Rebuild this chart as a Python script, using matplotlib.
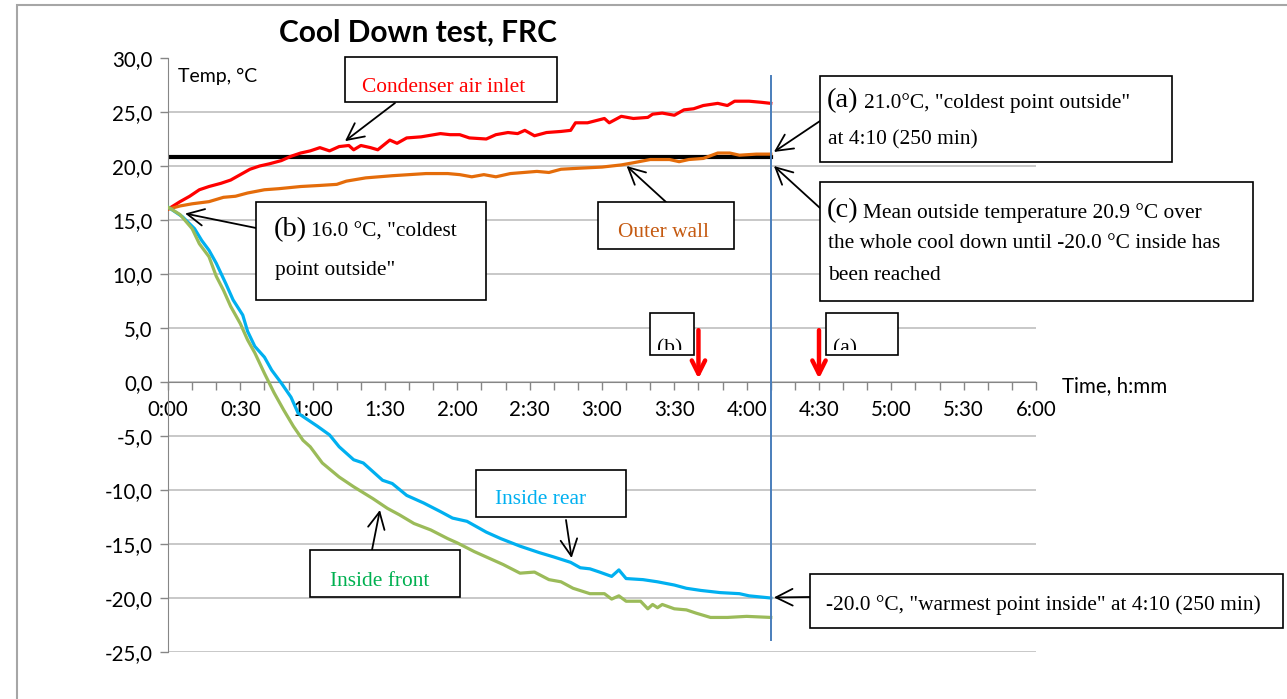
import matplotlib
matplotlib.use('Agg')
import matplotlib.pyplot as plt
from matplotlib.patches import Rectangle
from matplotlib.ticker import MultipleLocator, FuncFormatter
from matplotlib.transforms import Bbox

# 数据（分钟, °C）
t_red = [0, 5, 9, 13, 17, 22, 26, 30, 34, 38, 42, 47, 51, 55, 59, 63, 67, 71, 75, 77,
         80, 84, 87, 92, 95, 99, 105, 113, 117, 121, 125, 132, 136, 141, 145, 148, 152, 157, 163, 167,
         169, 174, 181, 183, 188, 193, 199, 201, 205, 210, 214, 218, 222, 228, 232, 235, 241, 246, 250]
condenser = [16.0, 16.7, 17.2, 17.8, 18.1, 18.4, 18.7, 19.2, 19.7, 20.0, 20.2, 20.5, 20.9, 21.2, 21.4, 21.7, 21.4, 21.8, 21.9, 21.5,
             21.9, 21.7, 21.5, 22.4, 22.1, 22.6, 22.7, 23.0, 22.9, 22.9, 22.6, 22.5, 22.9, 23.1, 23.0, 23.3, 22.8, 23.1, 23.2, 23.3,
             24.0, 24.0, 24.4, 24.0, 24.6, 24.4, 24.5, 24.8, 24.9, 24.7, 25.2, 25.3, 25.6, 25.8, 25.6, 26.0, 26.0, 25.9, 25.8]

t_orange = [0, 5, 10, 17, 23, 28, 33, 40, 46, 55, 63, 70, 74, 82, 93, 107, 116, 121, 126, 131,
            136, 142, 153, 158, 163, 171, 180, 188, 193, 200, 208, 212, 216, 222, 228, 233, 237, 244, 250]
outer_wall = [16.0, 16.3, 16.5, 16.7, 17.1, 17.2, 17.5, 17.8, 17.9, 18.1, 18.2, 18.3, 18.6, 18.9, 19.1, 19.3, 19.3, 19.2, 19.0, 19.2,
              19.0, 19.3, 19.5, 19.4, 19.7, 19.8, 19.9, 20.1, 20.3, 20.6, 20.6, 20.4, 20.6, 20.7, 21.2, 21.2, 21.0, 21.1, 21.1]

t_blue = [0, 6, 11, 14, 17, 20, 24, 27, 31, 33, 36, 40, 43, 47, 51, 54, 58, 62, 67, 71,
          77, 81, 89, 93, 99, 106, 113, 118, 124, 132, 138, 146, 154, 160, 167, 171, 175, 179, 184, 187,
          190, 197, 203, 210, 215, 221, 229, 237, 241, 250]
inside_rear = [16.2, 15.3, 14.2, 13.1, 12.2, 11.0, 9.1, 7.6, 6.2, 4.7, 3.3, 2.3, 1.1, -0.1, -1.4, -2.9, -3.5, -4.1, -4.9, -6.0,
               -7.2, -7.5, -9.1, -9.4, -10.5, -11.2, -12.0, -12.6, -12.9, -13.9, -14.5, -15.2, -15.8, -16.2, -16.7, -17.2, -17.3, -17.6, -18.0, -17.4,
               -18.2, -18.3, -18.5, -18.8, -19.1, -19.3, -19.5, -19.6, -19.8, -20.0]

t_green = [0, 5, 10, 13, 17, 20, 23, 26, 30, 33, 36, 40, 44, 48, 52, 56, 59, 64, 71, 77,
           85, 91, 96, 102, 109, 116, 120, 127, 132, 139, 146, 152, 158, 163, 168, 175, 181, 184, 187, 190,
           196, 199, 201, 203, 205, 210, 215, 219, 225, 232, 240, 250]
inside_front = [16.2, 15.5, 14.2, 12.8, 11.6, 9.8, 8.5, 7.0, 5.4, 3.9, 2.7, 0.8, -1.0, -2.6, -4.1, -5.4, -6.0, -7.5, -8.8, -9.7,
                -10.8, -11.7, -12.3, -13.1, -13.7, -14.5, -14.9, -15.7, -16.2, -16.9, -17.7, -17.6, -18.3, -18.5, -19.1, -19.6, -19.6, -20.1, -19.8, -20.3,
                -20.3, -21.0, -20.6, -20.9, -20.6, -21.0, -21.1, -21.4, -21.8, -21.8, -21.7, -21.8]

mean_outside = 20.8
t_end = 250
marker_b, marker_a = 220, 270

W, H = 1287, 699
fig = plt.figure(figsize=(W / 100, H / 100), dpi=100)

def fx(x):
    return x / W

def fy(y):
    return 1 - y / H

ax = fig.add_axes([fx(168), fy(652), fx(1036 - 168), (652 - 58) / H])
ax.set_xlim(0, 360)
ax.set_ylim(-25, 30)

# 网格和坐标轴
for v in range(-25, 30, 5):
    ax.axhline(v, color='#bfbfbf', lw=1.2, zorder=0)
for s in ['top', 'right']:
    ax.spines[s].set_visible(False)
ax.spines['left'].set_color('#868686')
ax.spines['bottom'].set_color('#868686')
ax.spines['bottom'].set_position(('data', 0))
ax.xaxis.set_major_locator(MultipleLocator(10))
ax.yaxis.set_major_locator(MultipleLocator(5))
ax.xaxis.set_major_formatter(FuncFormatter(
    lambda x, p: f"{int(x) // 60}:{int(x) % 60:02d}" if int(x) % 30 == 0 else ''))
ax.yaxis.set_major_formatter(FuncFormatter(lambda y, p: f"{y:.1f}".replace('.', ',')))
ax.tick_params(axis='both', colors='#868686', labelcolor='black', length=6, width=1,
               labelsize=14.8, labelfontfamily='Lato')
ax.tick_params(axis='x', pad=7)
ax.tick_params(axis='y', pad=5)

# 曲线
lw = 2.3
ax.plot(t_red, condenser, color='#ff0000', lw=lw, zorder=3)
ax.plot(t_orange, outer_wall, color='#e46c0a', lw=lw, zorder=3)
ax.plot(t_blue, inside_rear, color='#00b0f0', lw=lw, zorder=3)
ax.plot(t_green, inside_front, color='#9bbb59', lw=lw, zorder=3)
ax.plot([0, t_end], [mean_outside, mean_outside], color='black', lw=3, zorder=2)
ax.plot([t_end, t_end], [28.3, -23.9], color='#4a7ebb', lw=1.4, zorder=4)

# 红色箭头
for tm in [marker_b, marker_a]:
    ax.annotate('', xy=(tm, 0.3), xytext=(tm, 4.8),
                arrowprops=dict(arrowstyle='->', color='red', lw=3.2, mutation_scale=24,
                                shrinkA=0, shrinkB=0), zorder=5)

# 标题和轴标签
fig.text(fx(418), fy(33), 'Cool Down test, FRC', fontsize=21.5, fontweight='bold',
         family='Lato', ha='center', va='center')
fig.text(fx(178), fy(76), 'Temp, °C', fontsize=14, family='Lato', va='center')
fig.text(fx(1062), fy(386), 'Time, h:mm', fontsize=14.8, family='Lato', va='center')

# 外框
fig.patches.append(Rectangle((fx(17), -0.1), 1.2, fy(5) + 0.1, transform=fig.transFigure,
                             fill=False, ec='#a6a6a6', lw=1.5))

serif = 'Liberation Serif'
fs = 15.4
fs_big = 20.5

def box(x0, y0, x1, y1):
    fig.patches.append(Rectangle((fx(x0), fy(y1)), fx(x1 - x0), (y1 - y0) / H,
                                 transform=fig.transFigure, fc='white', ec='black', lw=1.2, zorder=6))

def arrow(xy, tail):
    ax.annotate('', xy=xy, xycoords='data', xytext=(tail[0], H - tail[1]),
                textcoords='figure pixels',
                arrowprops=dict(arrowstyle='->', color='black', lw=1.3, mutation_scale=30,
                                shrinkA=0, shrinkB=0), zorder=7)

def label(x, y, s, size=fs, color='black'):
    return fig.text(fx(x), fy(y), s, color=color, fontsize=size, family=serif,
                    va='center', zorder=8)

# 标注框
box(345, 57, 557, 102)
label(362, 88, 'Condenser air inlet', color='#ff0000')
arrow((73.4, 22.3), (395, 103))

box(820, 76, 1172, 162)
label(827, 101, '(a)', size=fs_big)
label(864, 103, '21.0°C, "coldest point outside"')
label(828, 140, 'at 4:10 (250 min)')
arrow((251.3, 21.3), (820, 121))

box(820, 182, 1253, 301)
label(827, 211, '(c)', size=fs_big)
label(863, 213, 'Mean outside temperature 20.9 °C over')
label(828, 244, 'the whole cool down until -20.0 °C inside has')
label(828, 276, 'been reached')
arrow((251.3, 20.0), (820, 208))

box(256, 202, 486, 300)
label(274, 230, '(b)', size=fs_big)
label(311, 232, '16.0 °C, "coldest')
label(275, 270, 'point outside"')
arrow((7.1, 15.6), (256, 228))

box(598, 202, 734, 249)
label(618, 233, 'Outer wall', color='#c55a11')
arrow((190.2, 20.0), (666, 202))

box(476, 470, 626, 517)
label(495, 499, 'Inside rear', color='#00b0f0')
arrow((167.4, -16.3), (566, 520))

box(310, 550, 460, 597)
label(330, 581, 'Inside front', color='#00b050')
arrow((87.9, -11.85), (372, 550))

box(810, 574, 1283, 628)
label(826, 605, '-20.0 °C, "warmest point inside" at 4:10 (250 min)')
arrow((251.3, -19.95), (810, 597))

# 被裁掉的小框 (b) (a)
for (x0, x1, lbl) in [(650, 694, '(b)'), (826, 898, '(a)')]:
    box(x0, 313, x1, 355)
    t = fig.text(fx(x0 + 7), fy(353), lbl, fontsize=fs, family=serif, va='baseline', zorder=8)
    t.set_clip_box(Bbox([[x0, H - 350], [x1, H - 313]]))
    t.set_clip_on(True)

fig.savefig('out.png', dpi=100)
